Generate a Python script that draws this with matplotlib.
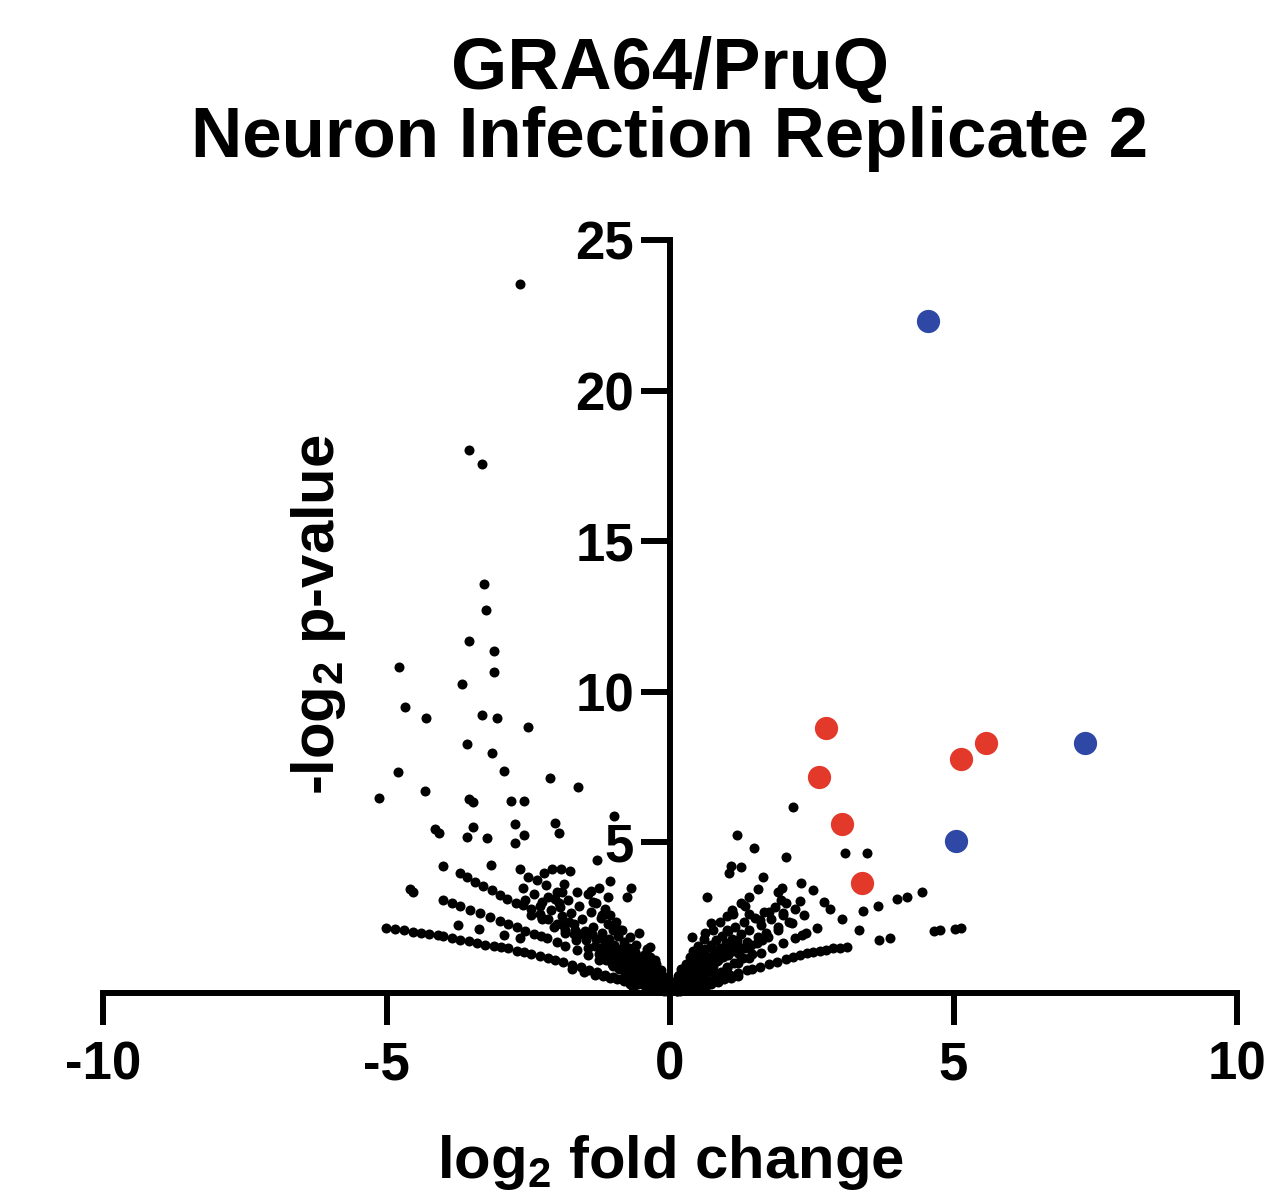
import matplotlib
matplotlib.use("Agg")
from matplotlib import pyplot as plt
import numpy as np

plt.rcParams['font.family'] = ['Liberation Sans', 'DejaVu Sans']
plt.rcParams['font.weight'] = 'bold'
plt.rcParams['axes.unicode_minus'] = False
plt.rcParams['mathtext.fontset'] = 'custom'
plt.rcParams['mathtext.rm'] = 'Liberation Sans:bold'
plt.rcParams['mathtext.it'] = 'Liberation Sans:bold'
plt.rcParams['mathtext.bf'] = 'Liberation Sans:bold'
plt.rcParams['mathtext.default'] = 'bf'

# highlighted genes
red_x = [2.75, 2.63, 3.03, 3.39, 5.13, 5.57]
red_y = [8.80, 7.17, 5.61, 3.65, 7.77, 8.30]
blue_x = [4.55, 7.32, 5.04]
blue_y = [22.3, 8.30, 5.05]

# scattered left points
left_x = [-2.65, -3.55, -3.32, -3.28, -3.25, -3.55, -3.10, -3.10, -4.78, -3.67,
          -4.67, -4.30, -3.32, -3.05, -2.50, -3.58, -3.14, -4.80, -2.93, -2.12,
          -1.62, -5.13, -4.32, -3.54, -3.47, -2.80, -2.57, -0.99, -4.14, -4.07,
          -3.47, -3.58, -3.23, -2.73, -2.57, -2.73, -2.03, -1.96, -1.29, -4.00,
          -3.16, -2.65, -2.22, -2.08, -1.92, -1.76, -1.87, -1.06, -0.69, -0.76,
          -3.74, -3.37, -2.93, -2.65, -2.26, -2.26, -2.03, -1.64, -1.36, -1.20,
          -1.94, -1.90, -1.18, -0.88, -0.35, -0.26]
left_y = [23.54, 18.03, 17.56, 13.58, 12.72, 11.69, 11.35, 10.66, 10.82, 10.26,
          9.50, 9.13, 9.23, 9.13, 8.83, 8.27, 7.97, 7.34, 7.37, 7.14,
          6.84, 6.47, 6.71, 6.44, 6.34, 6.37, 6.37, 5.88, 5.44, 5.31,
          5.51, 5.18, 5.15, 5.61, 5.25, 4.98, 5.64, 5.31, 4.42, 4.22,
          4.25, 4.12, 3.98, 4.12, 4.12, 4.05, 3.62, 3.72, 3.49, 3.19,
          2.26, 2.12, 1.93, 1.83, 3.02, 2.49, 3.12, 3.35, 3.02, 2.59,
          2.85, 3.35, 2.59, 2.09, 1.53, 1.10]

# left rays
ray_a_x = [-5.01, -4.85, -4.70, -4.53, -4.40, -4.25, -4.10, -4.00, -3.85, -3.70,
           -3.55, -3.40, -3.26, -3.10, -2.98, -2.86, -2.70, -2.58, -2.45, -2.30,
           -2.15, -2.03, -1.88, -1.72, -1.57, -1.42, -1.28, -1.15, -1.00, -0.85,
           -0.71, -0.56, -0.42, -0.28]
ray_a_y = [2.16, 2.13, 2.10, 2.03, 2.00, 1.97, 1.93, 1.89, 1.82, 1.76,
           1.71, 1.65, 1.59, 1.55, 1.52, 1.49, 1.41, 1.35, 1.29, 1.22,
           1.15, 1.10, 1.02, 0.94, 0.86, 0.78, 0.70, 0.60, 0.53, 0.45,
           0.37, 0.30, 0.22, 0.15]
ray_b_x = [-4.59, -4.53, -4.00, -3.85, -3.70, -3.53, -3.35, -3.17, -3.00, -2.85,
           -2.70, -2.55, -2.40, -2.28, -2.17, -2.00, -1.85, -1.64, -1.45, -1.25,
           -1.01, -0.80, -0.60, -0.45]
ray_b_y = [3.45, 3.35, 3.09, 2.99, 2.88, 2.76, 2.64, 2.52, 2.38, 2.29,
           2.19, 2.07, 1.97, 1.90, 1.83, 1.70, 1.57, 1.43, 1.27, 1.10,
           0.88, 0.70, 0.52, 0.40]
ray_c_x = [-3.70, -3.58, -3.44, -3.30, -3.14, -3.00, -2.87, -2.72, -2.59, -2.45,
           -2.30, -2.15, -2.00, -1.85, -1.70]
ray_c_y = [3.98, 3.85, 3.69, 3.56, 3.42, 3.27, 3.12, 3.00, 2.92, 2.78,
           2.62, 2.45, 2.28, 2.10, 1.95]

# dense cloud left of zero
blob_l_x = [-0.05, -0.10, -0.12, -0.15, -0.20, -0.22, -0.25, -0.28, -0.30, -0.32,
            -0.35, -0.38, -0.40, -0.42, -0.45, -0.48, -0.50, -0.52, -0.55, -0.58,
            -0.60, -0.62, -0.65, -0.68, -0.70, -0.72, -0.75, -0.78, -0.80, -0.82,
            -0.85, -0.88, -0.90, -0.92, -0.95, -0.98, -1.00, -1.02, -1.05, -1.08,
            -1.10, -1.12, -1.15, -1.20, -1.22, -1.25, -1.30, -1.35, -1.40, -1.45,
            -1.50, -1.55, -1.60, -1.65, -1.70, -1.75, -1.80, -1.85, -1.90, -1.95,
            -2.00, -2.05, -2.10, -2.15, -2.25, -2.30, -2.40, -2.45, -2.55, -2.60,
            -0.15, -0.30, -0.45, -0.60, -0.70, -0.85, -0.95, -1.05, -1.15, -1.30,
            -1.45, -1.25, -1.10, -0.55, -0.40, -0.25, -0.18, -0.08, -0.35, -0.65,
            -0.05, -0.08, -0.12, -0.16, -0.20, -0.24, -0.27, -0.33, -0.37, -0.43,
            -0.47, -0.53, -0.57, -0.63, -0.67, -0.73, -0.77, -0.83, -0.87, -0.93,
            -0.97, -1.03, -1.07, -1.13, -1.17, -1.23, -1.33, -1.38, -1.48, -1.58,
            -1.68, -1.78, -1.88, -0.10, -0.22, -0.34, -0.46, -0.58, -0.70, -0.82,
            -0.94, -1.06, -1.18, -1.32, -1.52, -1.72, -2.18, -2.35, -2.50, -1.40]
blob_l_y = [0.05, 0.15, 0.30, 0.10, 0.25, 0.45, 0.60, 0.15, 0.35, 0.70,
            0.50, 0.90, 0.20, 0.65, 1.00, 0.40, 0.80, 1.20, 0.55, 1.05,
            0.30, 1.35, 0.75, 1.15, 0.50, 1.50, 0.95, 1.30, 0.65, 1.70,
            1.10, 1.45, 0.80, 1.90, 1.25, 1.60, 2.10, 0.95, 1.40, 1.80,
            2.30, 1.10, 1.60, 2.00, 2.50, 1.30, 1.80, 2.20, 2.70, 1.50,
            2.05, 2.45, 2.90, 1.75, 2.30, 2.65, 3.10, 2.00, 2.55, 3.00,
            3.35, 2.20, 2.75, 3.20, 2.45, 2.90, 3.30, 2.60, 3.10, 3.50,
            0.40, 0.90, 1.25, 1.60, 1.85, 2.10, 2.35, 2.60, 2.80, 3.00,
            3.30, 3.50, 3.20, 2.00, 1.45, 0.95, 0.65, 0.35, 1.20, 0.20,
            0.20, 0.45, 0.55, 0.75, 0.40, 0.85, 0.35, 0.55, 0.70, 0.40,
            0.70, 0.55, 0.85, 0.60, 0.95, 0.80, 1.10, 0.95, 1.25, 1.05,
            1.40, 1.20, 1.55, 1.35, 1.75, 1.50, 1.55, 1.95, 1.75, 1.95,
            2.10, 2.35, 2.25, 0.05, 0.10, 0.20, 0.25, 0.35, 0.30, 0.40,
            0.45, 0.50, 0.55, 0.60, 0.70, 0.80, 3.60, 3.75, 3.85, 3.40]

# scattered right points
right_x = [2.17, 1.18, 1.48, 2.05, 3.09, 3.47, 1.08, 1.25, 1.04, 1.64,
           2.31, 2.52, 1.90, 1.98, 0.65, 1.96, 2.29, 2.72, 1.32, 1.11,
           0.72, 1.39, 1.59, 1.75, 1.99, 2.36, 2.15, 1.90, 2.33, 1.62,
           0.39, 0.62, 1.00, 3.33, 2.82]
right_y = [6.18, 5.25, 4.81, 4.52, 4.65, 4.65, 4.22, 4.18, 3.98, 3.85,
           3.65, 3.42, 3.35, 3.49, 3.19, 3.09, 3.05, 3.02, 2.89, 2.62,
           2.32, 2.62, 2.42, 2.69, 2.66, 2.59, 2.32, 2.09, 1.93, 1.76,
           1.86, 1.99, 2.09, 2.09, 2.78]

# right rays
ray_r1_x = [5.13, 5.02, 4.76, 4.66, 3.88, 3.69, 3.12, 3.00, 2.87, 2.75,
            2.65, 2.53, 2.42, 2.30, 2.17, 2.05, 1.89, 1.75, 1.59, 1.45,
            1.36, 1.20, 1.05, 0.90, 0.75, 0.60, 0.45, 0.30]
ray_r1_y = [2.16, 2.14, 2.09, 2.06, 1.83, 1.76, 1.53, 1.50, 1.49, 1.44,
            1.39, 1.36, 1.33, 1.27, 1.20, 1.12, 1.03, 0.96, 0.86, 0.80,
            0.76, 0.68, 0.60, 0.52, 0.44, 0.35, 0.26, 0.18]
ray_r2_x = [4.44, 4.18, 4.00, 3.67, 3.40, 3.03, 2.60, 2.40, 2.20, 2.00,
            1.80, 1.60, 1.40, 1.20, 1.00, 0.80]
ray_r2_y = [3.35, 3.19, 3.12, 2.89, 2.72, 2.46, 2.15, 2.00, 1.82, 1.66,
            1.49, 1.33, 1.17, 1.00, 0.84, 0.67]

# dense cloud right of zero
blob_r_x = [0.05, 0.10, 0.12, 0.15, 0.20, 0.22, 0.25, 0.30, 0.32, 0.35,
            0.38, 0.40, 0.42, 0.45, 0.48, 0.50, 0.52, 0.55, 0.58, 0.60,
            0.62, 0.65, 0.68, 0.70, 0.72, 0.75, 0.78, 0.80, 0.82, 0.85,
            0.88, 0.90, 0.92, 0.95, 0.98, 1.00, 1.02, 1.05, 1.10, 1.12,
            1.15, 1.20, 1.25, 1.28, 1.30, 1.35, 1.40, 1.45, 1.50, 1.55,
            1.60, 1.65, 1.70, 1.78, 1.85, 1.90, 2.00, 2.05, 2.10, 2.20,
            0.20, 0.35, 0.50, 0.60, 0.75, 0.88, 1.00, 1.10, 1.25, 1.40,
            1.55, 0.30, 0.45, 0.65, 0.15, 0.08, 0.28, 0.55, 0.40, 0.18,
            0.06, 0.10, 0.14, 0.18, 0.24, 0.27, 0.33, 0.37, 0.43, 0.47,
            0.53, 0.57, 0.63, 0.67, 0.73, 0.77, 0.83, 0.87, 0.93, 0.97,
            1.03, 1.07, 1.13, 1.18, 1.22, 1.33, 1.43, 1.53, 1.63, 1.73,
            0.12, 0.24, 0.36, 0.48, 0.60, 0.72, 0.84, 0.96, 1.08, 1.20]
blob_r_y = [0.10, 0.25, 0.05, 0.40, 0.15, 0.55, 0.30, 0.70, 0.10, 0.45,
            0.85, 0.25, 1.00, 0.60, 1.15, 0.35, 0.80, 1.30, 0.50, 1.00,
            1.45, 0.70, 1.20, 0.40, 1.60, 0.90, 1.35, 0.55, 1.75, 1.10,
            1.50, 0.70, 1.90, 1.25, 1.65, 0.85, 2.05, 1.40, 1.80, 1.00,
            2.20, 1.55, 1.95, 1.15, 2.35, 1.70, 2.10, 1.30, 2.50, 1.85,
            2.25, 2.70, 2.00, 2.45, 2.85, 2.20, 2.60, 3.00, 2.35, 2.80,
            0.80, 1.20, 1.55, 1.80, 2.10, 2.35, 2.55, 2.75, 3.00, 3.20,
            3.45, 0.20, 0.15, 0.25, 0.60, 0.30, 0.95, 0.20, 1.40, 0.05,
            0.20, 0.40, 0.55, 0.30, 0.65, 0.45, 0.50, 0.65, 0.55, 0.85,
            0.60, 0.95, 0.80, 1.10, 0.95, 1.20, 1.05, 1.30, 1.20, 1.45,
            1.25, 1.60, 1.40, 1.75, 1.30, 1.50, 1.60, 1.65, 1.80, 1.85,
            0.05, 0.10, 0.15, 0.20, 0.25, 0.30, 0.35, 0.45, 0.50, 0.55]

ns_x = left_x + ray_a_x + ray_b_x + ray_c_x + blob_l_x + right_x + ray_r1_x + ray_r2_x + blob_r_x
ns_y = left_y + ray_a_y + ray_b_y + ray_c_y + blob_l_y + right_y + ray_r1_y + ray_r2_y + blob_r_y

fig = plt.figure(figsize=(12.73, 12.01), dpi=100)
ax = fig.add_axes([103 / 1273, 208 / 1201, 1134 / 1273, 753 / 1201])

ax.scatter(ns_x, ns_y, s=52, color='black', linewidths=0, clip_on=False, zorder=3)
ax.scatter(red_x, red_y, s=280, color='#e3392b', linewidths=0, clip_on=False, zorder=4)
ax.scatter(blue_x, blue_y, s=280, color='#2f48a5', linewidths=0, clip_on=False, zorder=4)

ax.set_xlim(-10, 10)
ax.set_ylim(0, 25)
ax.spines['left'].set_position(('data', 0))
ax.spines['bottom'].set_position(('data', 0))
ax.spines['right'].set_visible(False)
ax.spines['top'].set_visible(False)
for side in ['left', 'bottom']:
    ax.spines[side].set_linewidth(4.3)
    ax.spines[side].set_capstyle('projecting')
    ax.spines[side].set_zorder(2)

ax.set_xticks([-10, -5, 0, 5, 10])
ax.set_yticks([5, 10, 15, 20, 25])
ax.tick_params(axis='x', direction='out', length=23, width=4.3, pad=11, labelsize=38)
ax.tick_params(axis='y', direction='out', length=21, width=4.3, pad=5, labelsize=38)
for lab in ax.get_xticklabels() + ax.get_yticklabels():
    lab.set_fontweight('bold')

fig.text(670 / 1273, 1 - 70 / 1201, 'GRA64/PruQ', ha='center', va='center', fontsize=52, fontweight='bold')
fig.text(670 / 1273, 1 - 139 / 1201, 'Neuron Infection Replicate 2', ha='center', va='center', fontsize=51, fontweight='bold')
fig.text(318 / 1273, 1 - 615 / 1201, '-log$_2$ p-value', rotation=90, ha='center', va='center', fontsize=43, fontweight='bold')
fig.text(670 / 1273, 23 / 1201, 'log$_2$ fold change', ha='center', va='baseline', fontsize=43, fontweight='bold')

fig.savefig('out.png', dpi=100, facecolor='white')
